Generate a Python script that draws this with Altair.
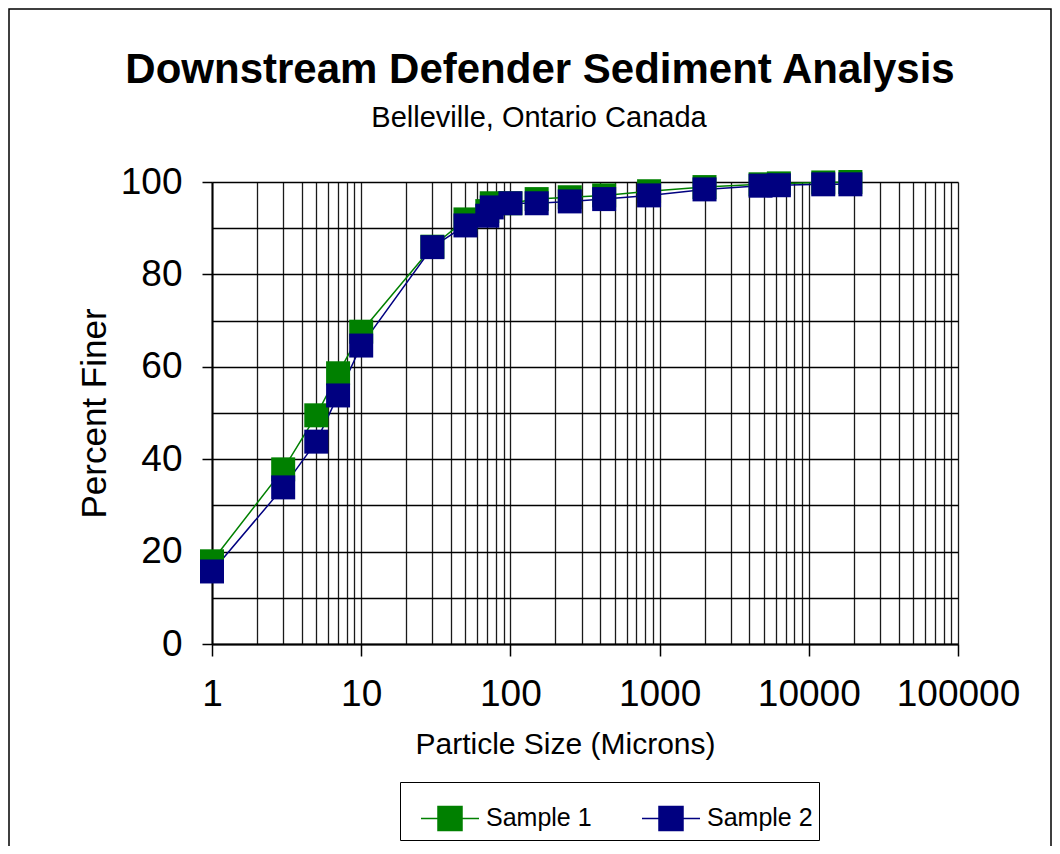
import altair as alt
import pandas as pd

# ---- data ----
sizes = [1, 3, 5, 7, 10, 30, 50, 70, 75, 100, 150, 250, 425, 850, 2000, 4750, 6300, 12500, 19000]
sample1 = [17.9, 37.8, 49.5, 58.6, 67.6, 86.0, 91.9, 93.7, 95.4, 95.4, 96.3, 96.7, 97.1, 98.0, 98.9, 99.5, 99.7, 99.9, 100.0]
sample2 = [15.7, 33.9, 43.8, 53.8, 64.6, 85.9, 90.6, 92.7, 94.5, 95.4, 95.4, 95.8, 96.3, 97.1, 98.4, 99.2, 99.3, 99.5, 99.5]
series_names = ["Sample 1", "Sample 2"]
series_colors = ["#008000", "#000080"]

x_major = [1, 10, 100, 1000, 10000, 100000]
x_minor_mult = [1, 2, 3, 4, 5, 6, 7, 8, 9]
y_ticks = [0, 10, 20, 30, 40, 50, 60, 70, 80, 90, 100]

title_text = "Downstream Defender Sediment Analysis"
subtitle_text = "Belleville, Ontario Canada"

x_grid = [m * d for d in x_major[:-1] for m in x_minor_mult] + [x_major[-1]]

rows = []
for name, vals in zip(series_names, [sample1, sample2]):
    for s, v in zip(sizes, vals):
        rows.append({"series": name, "size": s, "pct": v})
df = pd.DataFrame(rows)

FONT = "Liberation Sans"
major_arr = "[" + ",".join(str(v) for v in x_major) + "]"
is_major = f"indexof({major_arr}, datum.value) >= 0"

x_enc = alt.X(
    "size:Q",
    scale=alt.Scale(type="log", domain=[1, 100000], nice=False),
    axis=alt.Axis(
        title="Particle Size (Microns)",
        values=x_grid,
        labelExpr=f"{is_major} ? format(datum.value, 'd') : ''",
        labelOverlap=False,
        labelFlush=False,
        labelFont=FONT,
        labelFontSize=37,
        labelColor="black",
        labelPadding=20,
        tickSize=12,
        tickColor="black",
        tickWidth=1.5,
        tickOpacity={"condition": {"test": is_major, "value": 1}, "value": 0},
        grid=True,
        gridColor="#1a1a1a",
        gridWidth=1.3,
        gridOpacity=1,
        domainColor="black",
        domainWidth=2,
        titleFont=FONT,
        titleFontSize=30,
        titleFontWeight="normal",
        titleColor="black",
        titlePadding=17,
        titleX=353,
    ),
)

y_enc = alt.Y(
    "pct:Q",
    scale=alt.Scale(domain=[0, 100], nice=False),
    axis=alt.Axis(
        title="Percent Finer",
        values=y_ticks,
        labelExpr="datum.value % 20 == 0 ? datum.label : ''",
        labelOverlap=False,
        labelFlush=False,
        labelFont=FONT,
        labelFontSize=37,
        labelColor="black",
        labelPadding=20,
        tickSize=10,
        tickColor="black",
        tickWidth=1.5,
        tickOpacity={"condition": {"test": "datum.value % 20 == 0", "value": 1}, "value": 0},
        grid=True,
        gridColor="black",
        gridWidth=1.5,
        gridOpacity=1,
        domainColor="black",
        domainWidth=2,
        titleFont=FONT,
        titleFontSize=35,
        titleFontWeight="normal",
        titleColor="black",
        titlePadding=8,
    ),
)

legend = alt.Legend(
    title=None,
    orient="none",
    legendX=188,
    legendY=600,
    direction="horizontal",
    symbolType="M-1,0H1M-0.414,-0.414H0.414V0.414H-0.414Z",
    symbolSize=3364,
    symbolStrokeWidth=1.5,
    symbolOpacity=1,
    symbolOffset=14,
    labelFont=FONT,
    labelFontSize=25,
    labelColor="black",
    labelOffset=6,
    columnPadding=35,
    padding=6,
    strokeColor="black",
    fillColor="white",
)

color_scale = alt.Scale(domain=series_names, range=series_colors)

one = pd.DataFrame({"k": [0]})

border = alt.Chart(one).mark_rect(
    fill="transparent", stroke="black", strokeWidth=1.5
).encode(
    x=alt.value(-203), x2=alt.value(839), y=alt.value(-173), y2=alt.value(720)
)

title_mark = alt.Chart(one).mark_text(
    font=FONT, fontSize=42, fontWeight="bold", color="black",
    align="center", baseline="alphabetic"
).encode(x=alt.value(328), y=alt.value(-99), text=alt.value(title_text))

subtitle_mark = alt.Chart(one).mark_text(
    font=FONT, fontSize=29, color="black",
    align="center", baseline="alphabetic"
).encode(x=alt.value(327), y=alt.value(-55), text=alt.value(subtitle_text))

lines = alt.Chart(df).mark_line(strokeWidth=1.5).encode(
    x=x_enc, y=y_enc,
    stroke=alt.Stroke("series:N", scale=color_scale, legend=legend),
)

points = alt.Chart(df).mark_square(size=576, opacity=1, filled=True, strokeWidth=0).encode(
    x=x_enc, y=y_enc,
    fill=alt.Fill("series:N", scale=color_scale, legend=legend),
    stroke=alt.Stroke("series:N", scale=color_scale, legend=legend),
)

chart = alt.layer(border, title_mark, subtitle_mark, lines, points).properties(
    width=746,
    height=462,
    padding={"left": 204, "top": 174, "right": 94, "bottom": 202},
    autosize=alt.AutoSizeParams(type="none"),
).configure_view(
    stroke="black", strokeWidth=2
).configure(
    background="white"
)

chart.save("out.html", embed_options={"renderer": "svg", "actions": False})
